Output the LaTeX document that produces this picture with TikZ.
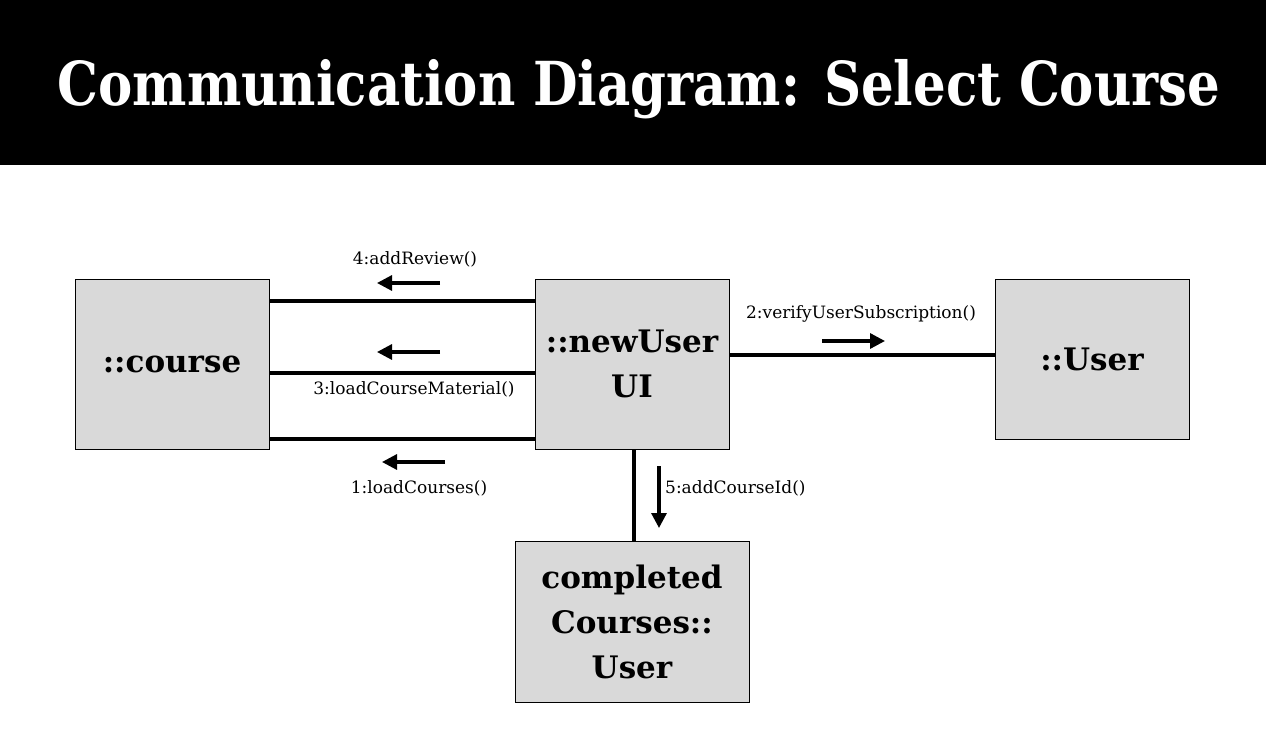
\documentclass[tikz,border=0pt]{standalone}
\usepackage{fontspec}
\setmainfont{DejaVu Serif}
\usetikzlibrary{arrows.meta}
\definecolor{boxgray}{HTML}{D9D9D9}
\tikzset{
  obj/.style={draw=black, line width=1pt, fill=boxgray, inner sep=0pt, align=center,
    font=\fontsize{31}{45}\selectfont\bfseries},
  link/.style={line width=3.2pt},
  msg/.style={line width=3.2pt, -{Triangle[length=15pt,width=15pt]}},
  lbl/.style={font=\fontsize{17}{20}\selectfont, inner sep=0pt}
}
\begin{document}
\begin{tikzpicture}[x=1pt,y=-1pt]
\useasboundingbox (0,0) rectangle (1266,746);
\fill[black] (0,0) rectangle (1266,165);
\node[text=white, inner sep=0pt] (title) at (639,89)
  {\scalebox{1}[1.18]{\resizebox{1162pt}{!}{\bfseries Communication Diagram: Select Course}}};
% objects
\node[obj, minimum width=194pt, minimum height=170pt] (course) at (172,364) {::course};
\node[obj, minimum width=194pt, minimum height=170pt] (ui) at (632,364) {::newUser\\UI};
\node[obj, minimum width=194pt, minimum height=160pt] (user) at (1092,359) {::User};
\node[obj, minimum width=234pt, minimum height=161pt] (cc) at (632,621.5) {completed\\Courses::\\User};
% links
\draw[link] (course.east |- 0,301) -- (ui.west |- 0,301);
\draw[link] (course.east |- 0,373) -- (ui.west |- 0,373);
\draw[link] (course.east |- 0,439) -- (ui.west |- 0,439);
\draw[link] (ui.east |- 0,355) -- (user.west |- 0,355);
\draw[link] (ui.south -| 634,0) -- (cc.north -| 634,0);
% message arrows
\coordinate (a4s) at (440,283); \coordinate (a4e) at (377,283);
\coordinate (a3s) at (440,352); \coordinate (a3e) at (377,352);
\coordinate (a1s) at (445,462); \coordinate (a1e) at (382,462);
\coordinate (a2s) at (822,341); \coordinate (a2e) at (885,341);
\coordinate (a5s) at (659,466); \coordinate (a5e) at (659,528);
\draw[msg] (a4s) -- (a4e);
\draw[msg] (a3s) -- (a3e);
\draw[msg] (a1s) -- (a1e);
\draw[msg] (a2s) -- (a2e);
\draw[msg] (a5s) -- (a5e);
% labels
\node[lbl] (l4) at (415,259) {4:addReview()};
\node[lbl] (l3) at (414,389) {3:loadCourseMaterial()};
\node[lbl] (l1) at (419,488) {1:loadCourses()};
\node[lbl] (l2) at (861,314) {2:verifyUserSubscription()};
\node[lbl, anchor=west] (l5) at (665,488) {5:addCourseId()};
\end{tikzpicture}
\end{document}
